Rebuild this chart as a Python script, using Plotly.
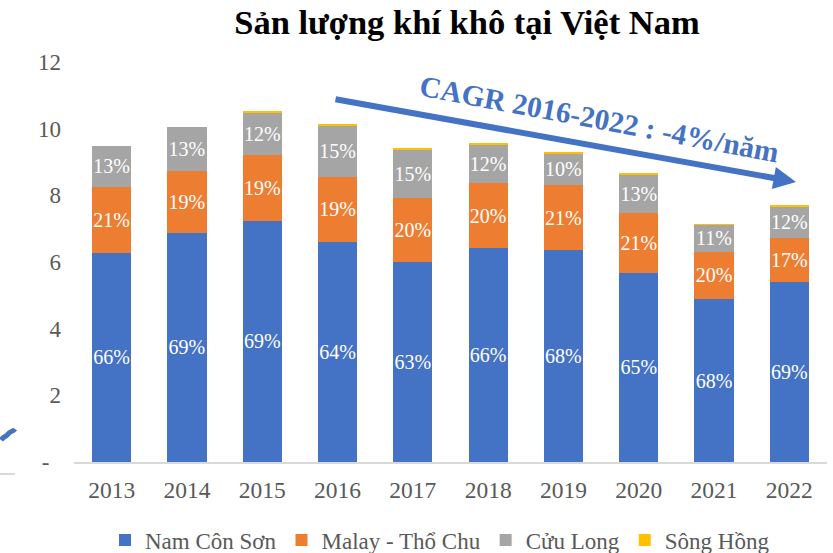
import plotly.graph_objects as go

years = ["2013", "2014", "2015", "2016", "2017", "2018", "2019", "2020", "2021", "2022"]
nam_con_son = [6.28, 6.88, 7.24, 6.61, 6.01, 6.41, 6.36, 5.68, 4.89, 5.40]
malay_tho_chu = [1.98, 1.86, 1.97, 1.95, 1.92, 1.95, 1.95, 1.80, 1.42, 1.33]
cuu_long = [1.23, 1.30, 1.27, 1.53, 1.43, 1.15, 0.95, 1.14, 0.80, 0.93]
song_hong = [0.0, 0.0, 0.03, 0.05, 0.04, 0.04, 0.03, 0.03, 0.03, 0.03]

lbl_ncs = ["66%", "69%", "69%", "64%", "63%", "66%", "68%", "65%", "68%", "69%"]
lbl_malay = ["21%", "19%", "19%", "19%", "20%", "20%", "21%", "21%", "20%", "17%"]
lbl_cl = ["13%", "13%", "12%", "15%", "15%", "12%", "10%", "13%", "11%", "12%"]

y_tickvals = [0, 2, 4, 6, 8, 10, 12]
y_ticktext = ["-\u00a0\u00a0", "2", "4", "6", "8", "10", "12"]

SERIF = "Liberation Serif, Times New Roman, serif"
GREY_TXT = "#595959"

fig = go.Figure()

def add(name, vals, color, labels=None):
    kw = {}
    if labels is not None:
        kw = dict(text=labels, texttemplate="%{text}", textposition="inside",
                  insidetextanchor="middle", constraintext="none", textangle=0,
                  textfont=dict(family=SERIF, size=20, color="white"))
    fig.add_trace(go.Bar(x=years, y=vals, name=name,
                         marker=dict(color=color, line=dict(width=0)),
                         hoverinfo="x+y+name", **kw))

add("Nam Côn Sơn", nam_con_son, "#4472C4", lbl_ncs)
add("Malay - Thổ Chu", malay_tho_chu, "#ED7D31", lbl_malay)
add("Cửu Long", cuu_long, "#A5A5A5", lbl_cl)
add("Sông Hồng", song_hong, "#FFC000")

L, R, T, B = 74, 6, 62, 91
W, H = 833, 553
pw = W - L - R
ph = H - T - B

def px_x(px):
    return (px - L) / pw

def px_y(py):
    return (H - B - py) / ph

fig.update_layout(
    width=W, height=H,
    barmode="stack",
    bargap=0.48,
    plot_bgcolor="white",
    paper_bgcolor="white",
    margin=dict(l=L, r=R, t=T, b=B, autoexpand=False),
    font=dict(family=SERIF, color=GREY_TXT),
    title=dict(text="<b>Sản lượng khí khô tại Việt Nam</b>",
               x=467 / W, xanchor="center", xref="container",
               y=1 - 22 / H, yanchor="middle", yref="container",
               font=dict(family=SERIF, size=34.5, color="black")),
    xaxis=dict(type="category", showgrid=False, showline=True,
               linecolor="#D9D9D9", linewidth=2, ticks="",
               ticklabelstandoff=6,
               tickfont=dict(family=SERIF, size=23.5, color=GREY_TXT)),
    yaxis=dict(range=[0, 12], tickvals=y_tickvals, ticktext=y_ticktext,
               showgrid=False, zeroline=False, showline=False, ticks="",
               ticklabelstandoff=12,
               tickfont=dict(family=SERIF, size=23, color=GREY_TXT)),
    legend=dict(orientation="h", x=px_x(440), xanchor="center",
                y=px_y(540), yanchor="middle",
                font=dict(family=SERIF, size=23, color=GREY_TXT),
                traceorder="normal"),
    showlegend=True,
)

# CAGR arrow
tip_x, tip_y = 796, 182
tail_x, tail_y = 334, 99
fig.add_annotation(x=px_x(tip_x), y=px_y(tip_y), xref="paper", yref="paper",
                   text="", showarrow=True, arrowhead=2, arrowsize=0.75,
                   arrowwidth=6, arrowcolor="#4472C4",
                   ax=tail_x - tip_x, ay=tail_y - tip_y, standoff=0)
fig.add_annotation(x=px_x(599), y=px_y(119), xref="paper", yref="paper",
                   text="<b>CAGR 2016-2022 : -4%/năm</b>", showarrow=False,
                   textangle=10.6, xanchor="center", yanchor="middle",
                   font=dict(family=SERIF, size=29.5, color="#4472C4"))

# cropped fragments at left edge of the original picture
fig.add_shape(type="path", xref="paper", yref="paper",
              path="M {:.4f},{:.4f} C {:.4f},{:.4f} {:.4f},{:.4f} {:.4f},{:.4f} C {:.4f},{:.4f} {:.4f},{:.4f} {:.4f},{:.4f}".format(
                  px_x(1), px_y(440), px_x(4), px_y(436), px_x(6), px_y(437), px_x(8), px_y(434),
                  px_x(10), px_y(431), px_x(13), px_y(432), px_x(15), px_y(429)),
              line=dict(color="#4472C4", width=5))
fig.add_shape(type="line", xref="paper", yref="paper",
              x0=px_x(0), x1=px_x(15), y0=px_y(474), y1=px_y(474),
              line=dict(color="#D9D9D9", width=2))

fig.write_html("out.html", config={"displayModeBar": False},
               post_script="document.body.style.margin='0';document.body.style.padding='0';")
